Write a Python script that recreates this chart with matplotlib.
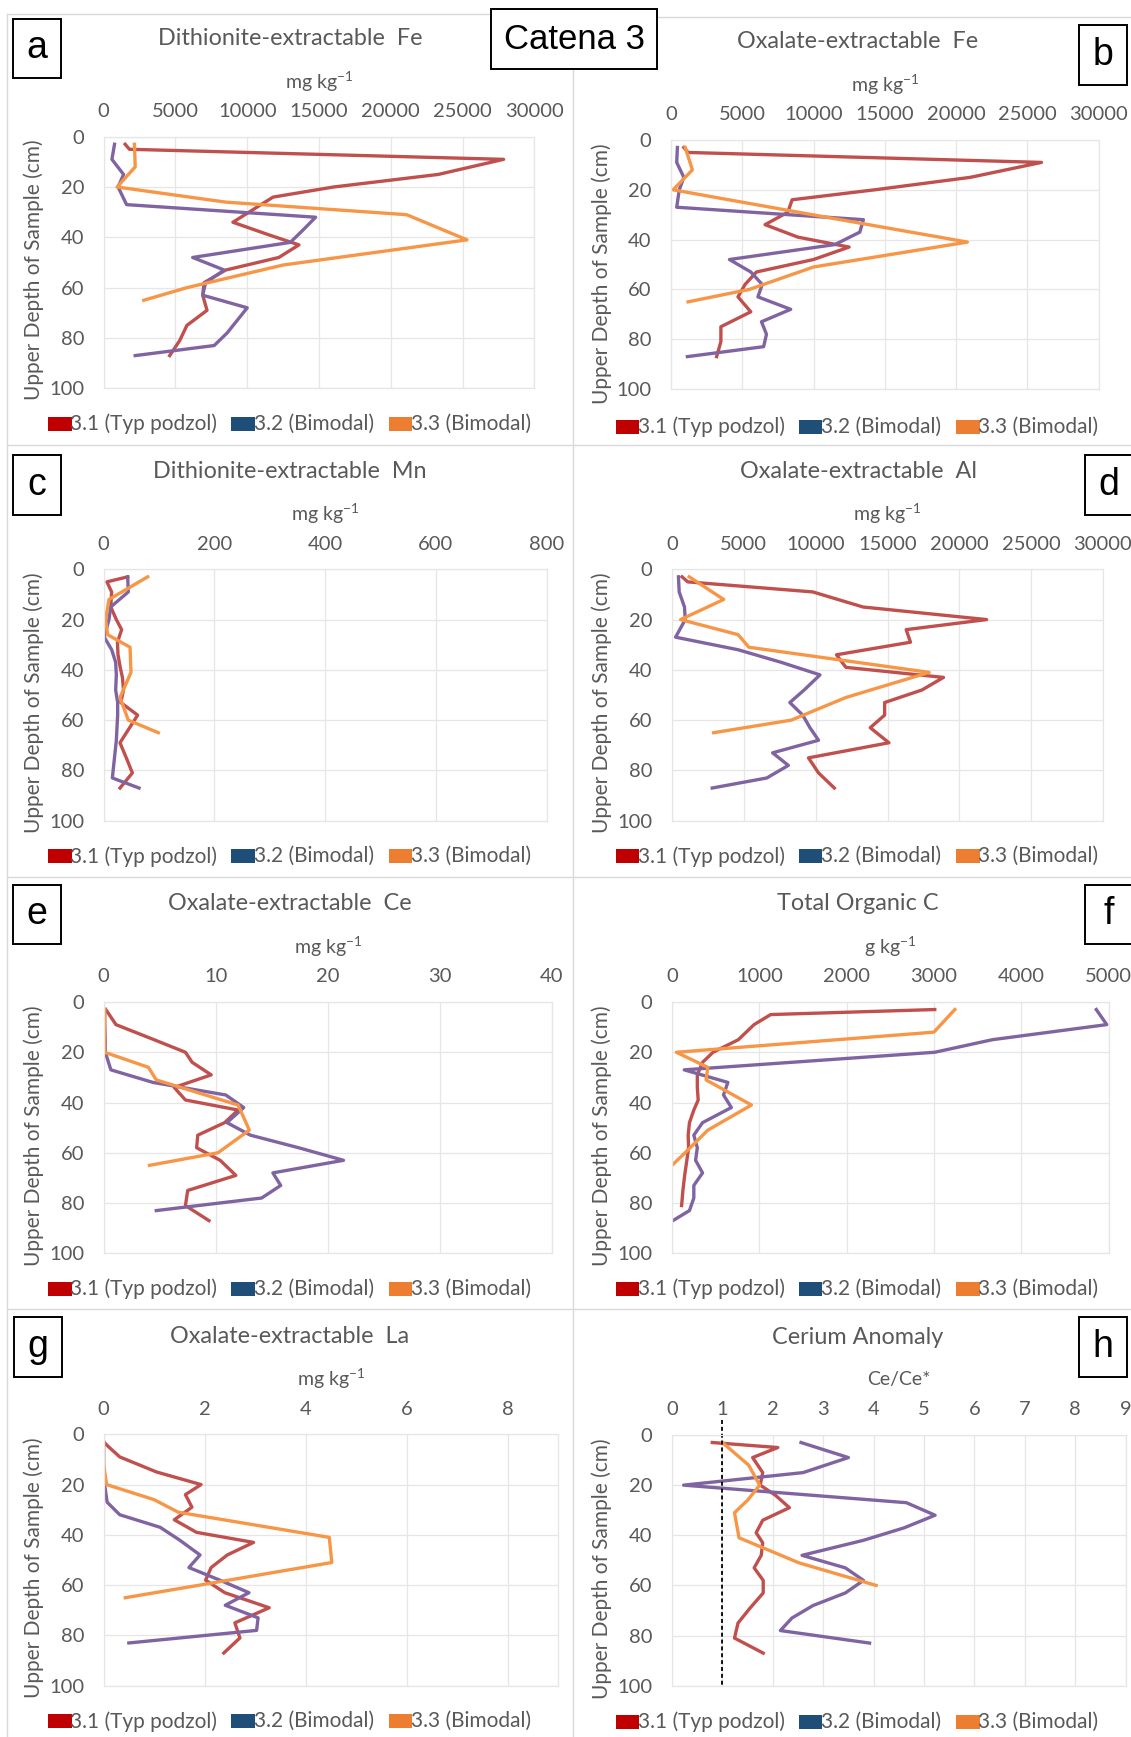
import matplotlib
matplotlib.use("Agg")
import matplotlib.pyplot as plt
from matplotlib.patches import Rectangle

plt.rcParams['font.family'] = ['Lato', 'DejaVu Sans']
plt.rcParams['mathtext.fontset'] = 'custom'
plt.rcParams['mathtext.rm'] = 'Lato'
plt.rcParams['mathtext.it'] = 'Lato:italic'

# sample depths (cm) for each profile
depth_31 = [3, 5, 9, 15, 20, 24, 29, 34, 39, 43, 48, 53, 58, 63, 69, 75, 81, 87]
depth_32 = [3, 9, 15, 20, 27, 32, 37, 42, 48, 53, 58, 63, 68, 73, 78, 83, 87]
depth_33 = [3, 12, 20, 26, 31, 41, 51, 60, 65]

# a: dithionite-extractable Fe (mg/kg)
dfe_31 = [1500, 1800, 27850, 23300, 16000, 11800, 10400, 9000, 11500, 13600, 12200, 8500, 7000, 6900, 7200, 5800, 5300, 4600]
dfe_32 = [760, 580, 1390, 1010, 1600, 14760, 13900, 13000, 6200, 8400, 7100, 6900, 10000, 9300, 8600, 7700, 2200]
dfe_33 = [2150, 2200, 940, 8500, 21100, 25300, 12500, 5800, 2800]

# b: oxalate-extractable Fe (mg/kg)
ofe_31 = [900, 1200, 26000, 21000, 14300, 8500, 8200, 6600, 8900, 12500, 10000, 6000, 5200, 4700, 5600, 3500, 3500, 3200]
ofe_32 = [450, 400, 900, 580, 400, 13500, 13250, 11500, 4100, 5600, 6400, 6100, 8400, 6350, 6700, 6500, 1150]
ofe_33 = [1000, 1500, 150, 6000, 10900, 20800, 10000, 5500, 1200]

# c: dithionite-extractable Mn (mg/kg)
dmn_31 = [43.5, 6, 14.5, 13, 23, 32.6, 25, 26, 30, 34, 36, 31, 61.5, 47, 29.6, 41, 52, 29.6]
dmn_32 = [43.5, 44.6, 12.8, 9.6, 1.3, 14.6, 21.8, 23, 21.8, 25.4, 25.4, 24.2, 23, 20.6, 18.2, 15.8, 64]
dmn_33 = [79.6, 9.7, 3.7, 7.3, 47.7, 49.5, 29.6, 44.6, 98.8]

# d: oxalate-extractable Al (mg/kg)
oal_31 = [700, 1100, 9800, 13300, 21900, 16300, 16600, 11450, 12100, 18900, 17400, 14800, 14800, 13800, 15100, 9500, 10200, 11300]
oal_32 = [450, 500, 870, 920, 250, 4600, 7600, 10300, 9200, 8200, 9100, 9600, 10200, 7000, 8100, 6600, 2800]
oal_33 = [1200, 3600, 600, 4600, 5350, 17900, 12100, 8300, 2900]

# e: oxalate-extractable Ce (mg/kg)
oce_31 = [0.2, 0.5, 1.1, 4.5, 7.3, 7.9, 9.6, 6.3, 7.3, 12.0, 10.8, 8.4, 8.3, 10.4, 11.8, 7.5, 7.3, 9.4]
oce_32 = [0.1, 0.1, 0.15, 0.15, 0.65, 4.4, 10.9, 12.5, 11.0, 13.1, 17.4, 21.4, 15.1, 15.8, 14.1, 4.7]
oce_33 = [0.1, 0.1, 0.1, 4.0, 4.7, 12.0, 13.0, 10.2, 4.1]

# f: total organic C (g/kg)
toc_31 = [3010, 1130, 940, 760, 470, 350, 290, 290, 300, 250, 200, 185, 190, 170, 145, 125, 110]
toc_32 = [4860, 4980, 3670, 3010, 140, 640, 590, 680, 350, 250, 290, 270, 350, 250, 250, 200, 10]
toc_33 = [3240, 3000, 50, 410, 390, 910, 410, 150, 0]

# g: oxalate-extractable La (mg/kg)
ola_31 = [0, 0.1, 0.32, 1.05, 1.93, 1.62, 1.75, 1.4, 1.84, 2.97, 2.45, 2.13, 2.02, 2.4, 3.28, 2.6, 2.7, 2.38]
ola_32 = [0, 0, 0, 0.02, 0.07, 0.32, 1.12, 1.5, 1.91, 1.69, 2.3, 2.88, 2.41, 3.06, 3.03, 0.5]
ola_33 = [0, 0, 0.06, 1.0, 1.48, 4.47, 4.52, 1.9, 0.43]

# h: cerium anomaly Ce/Ce*
cea_31 = [0.8, 2.1, 1.6, 1.8, 1.75, 2.05, 2.33, 1.8, 1.67, 1.8, 1.77, 1.63, 1.81, 1.81, 1.55, 1.31, 1.24, 1.81]
cea_32 = [2.56, 3.5, 2.6, 0.23, 4.65, 5.22, 4.61, 3.8, 2.58, 3.44, 3.8, 3.44, 2.8, 2.38, 2.15, 3.92]
cea_33 = [1.0, 1.52, 1.74, 1.5, 1.24, 1.33, 2.52, 4.05]

series_names = ['3.1 (Typ podzol)', '3.2 (Bimodal)', '3.3 (Bimodal)']
line_colors = ['#C0504D', '#8064A2', '#F79646']
legend_colors = ['#C00000', '#1F4E79', '#ED7D31']
GRAY = '#595959'

W, H = 1131, 1737
fig = plt.figure(figsize=(W / 100, H / 100), dpi=100)


def px_box(x0, y0, x1, y1):
    return [x0 / W, 1 - y1 / H, (x1 - x0) / W, (y1 - y0) / H]


panels = [
    # letter, title, unit, data, xmax, xstep, axes box (px), letter box (px), side
    ('a', 'Dithionite-extractable  Fe', r'mg kg$^{-1}$', (dfe_31, dfe_32, dfe_33), 30000, 5000,
     (103.6, 136.7, 534.5, 388.3), (12.5, 18.5, 60.5, 77.5), 0),
    ('b', 'Oxalate-extractable  Fe', r'mg kg$^{-1}$', (ofe_31, ofe_32, ofe_33), 30000, 5000,
     (671, 140, 1098.5, 389), (1079, 25, 1127, 85), 1),
    ('c', 'Dithionite-extractable  Mn', r'mg kg$^{-1}$', (dmn_31, dmn_32, dmn_33), 800, 200,
     (103.6, 569.3, 546.5, 820.7), (12.5, 455, 60.5, 515), 0),
    ('d', 'Oxalate-extractable  Al', r'mg kg$^{-1}$', (oal_31, oal_32, oal_33), 30000, 5000,
     (672, 569.3, 1103, 820.7), (1085, 455, 1140, 515), 1),
    ('e', 'Oxalate-extractable  Ce', r'mg kg$^{-1}$', (oce_31, oce_32, oce_33), 40, 10,
     (103.6, 1002, 552, 1253.3), (12.5, 884.5, 60.5, 944), 0),
    ('f', 'Total Organic C', r'g kg$^{-1}$', (toc_31, toc_32, toc_33), 5000, 1000,
     (672, 1002, 1108.5, 1253.3), (1085, 884.5, 1140, 944), 1),
    ('g', 'Oxalate-extractable  La', r'mg kg$^{-1}$', (ola_31, ola_32, ola_33), 9, 2,
     (103.6, 1434.3, 558, 1685.7), (13.5, 1317, 61.5, 1377), 0),
    ('h', 'Cerium Anomaly', 'Ce/Ce*', (cea_31, cea_32, cea_33), 9, 1,
     (672, 1435, 1125.6, 1685.7), (1079, 1317, 1127, 1377), 1),
]

for letter, title, unit, data, xmax, xstep, abox, lbox, side in panels:
    ax = fig.add_axes(px_box(*abox))
    v31, v32, v33 = data
    ax.plot(v31, depth_31[:len(v31)], color=line_colors[0], lw=2.4)
    ax.plot(v32, depth_32[:len(v32)], color=line_colors[1], lw=2.4)
    ax.plot(v33, depth_33[:len(v33)], color=line_colors[2], lw=2.4)
    ax.set_xlim(0, xmax)
    ax.set_ylim(100, 0)
    xt = list(range(0, xmax + 1, xstep))
    ax.set_xticks(xt)
    ax.set_xticklabels([str(t) for t in xt])
    ax.set_yticks([0, 20, 40, 60, 80, 100])
    ax.xaxis.tick_top()
    ax.tick_params(axis='x', length=0, pad=12, labelsize=14.5, labelcolor=GRAY)
    ax.tick_params(axis='y', length=0, pad=14, labelsize=14.5, labelcolor=GRAY)
    ax.grid(True, color='#E6E6E6', lw=0.9)
    ax.set_axisbelow(True)
    for sp in ax.spines.values():
        sp.set_color('#E6E6E6')
        sp.set_linewidth(0.9)
    ax.set_ylabel('Upper Depth of Sample (cm)', fontsize=15, color=GRAY)
    x0, y0, x1, y1 = abox
    ax.yaxis.set_label_coords((44 + side * 568 - x0) / (x1 - x0), 1 - (270 - 136.7) / (y1 - y0))
    if letter == 'h':
        ax.plot([1, 1], [-6, 100], color='black', lw=1.3, ls=(0, (2.2, 1.6)), clip_on=False)

ov = fig.add_axes([0, 0, 1, 1], zorder=5)
ov.set_xlim(0, W)
ov.set_ylim(H, 0)
ov.axis('off')
ov.patch.set_alpha(0)

# chart area borders
bc = '#D9D9D9'
ov.plot([6.5, 573], [14, 14], color=bc, lw=1)
ov.plot([573, W], [16.7, 16.7], color=bc, lw=1)
for yy in (445, 877, 1309):
    ov.plot([6.5, W], [yy, yy], color=bc, lw=1)
ov.plot([6.5, 6.5], [14, H], color=bc, lw=1)
ov.plot([573, 573], [14, H], color=bc, lw=1)

for letter, title, unit, data, xmax, xstep, abox, lbox, side in panels:
    x0, y0, x1, y1 = abox
    cx = 290 + side * 568
    ov.text(cx, y0 - 98, title, ha='center', va='center', fontsize=16.8, color=GRAY)
    ov.text((x0 + x1) / 2, y0 - 55, unit, ha='center', va='center', fontsize=14, color=GRAY)
    bx0, by0, bx1, by1 = lbox
    ov.add_patch(Rectangle((bx0, by0), bx1 - bx0, by1 - by0, facecolor='white',
                           edgecolor='black', lw=1.4, zorder=3))
    ov.text(bx0 + 24, (by0 + by1) / 2, letter, ha='center', va='center', fontsize=27,
            family='Liberation Sans', color='black', zorder=4)
    # legend
    ly = y0 + 287
    base = side * 567.5
    for k, lx in enumerate((48, 231, 388.5)):
        px = lx + base
        ov.add_patch(Rectangle((px, ly - 7), 23.5, 14, facecolor=legend_colors[k],
                               edgecolor='none', zorder=3))
        ov.text(px + 22.5, ly, series_names[k], ha='left', va='center', fontsize=15,
                color=GRAY, zorder=4)

ov.add_patch(Rectangle((491, 9.3), 166, 60, facecolor='white', edgecolor='black', lw=1.4, zorder=3))
ov.text(574, 39.5, 'Catena 3', ha='center', va='center', fontsize=25,
        family='Liberation Sans', color='black', zorder=4)

fig.savefig('out.png', dpi=100, facecolor='white')
